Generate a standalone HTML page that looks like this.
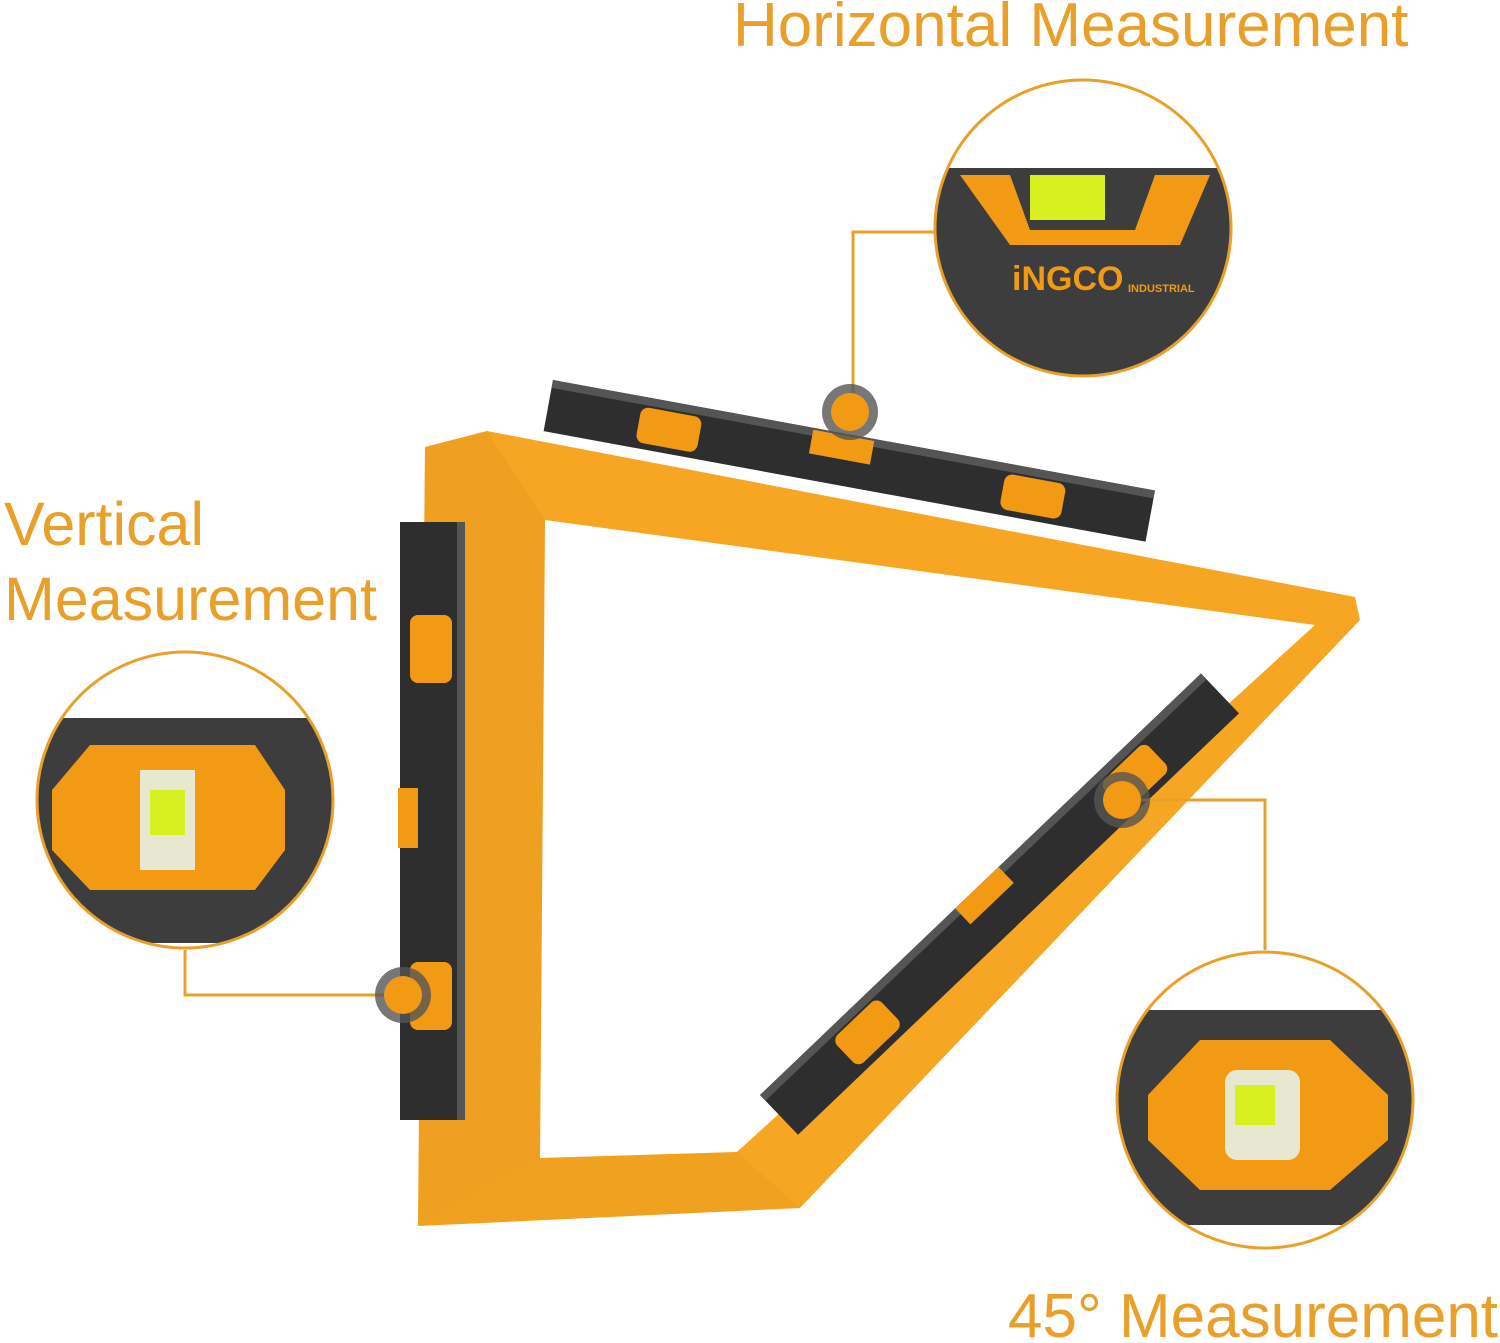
<!DOCTYPE html>
<html><head><meta charset="utf-8"><style>
html,body{margin:0;padding:0;background:#fff;}
svg{display:block;}
text{font-family:"Liberation Sans",sans-serif;fill:#e9a02a;}
</style></head><body>
<svg width="1500" height="1343" viewBox="0 0 1500 1343" xmlns="http://www.w3.org/2000/svg">
<defs>
<clipPath id="c1"><circle cx="1083" cy="228" r="147"/></clipPath>
<clipPath id="c2"><circle cx="185" cy="800" r="147"/></clipPath>
<clipPath id="c3"><circle cx="1265" cy="1100" r="147"/></clipPath>
</defs>
<text x="733" y="46" font-size="62">Horizontal Measurement</text>
<text x="4" y="545" font-size="61">Vertical</text>
<text x="4" y="620" font-size="61">Measurement</text>
<text x="1008" y="1337" font-size="62">45° Measurement</text>

<path fill-rule="evenodd" fill="#f6a623" d="M425,447 L487,431 L1355,597 L1360,620 L800,1208 L418,1226 Z M545,520 L1315,625 L737,1152 L540,1158 Z"/>
<path fill="#e0921a" d="M425,447 L487,431 L545,520 L540,1158 L418,1226 Z" opacity="0.3"/>
<path fill="#e8981c" d="M540,1158 L737,1152 L800,1208 L418,1226 Z" opacity="0.35"/>

<g transform="translate(553,380) rotate(10.4)">
<rect x="0" y="0" width="612" height="52" fill="#2e2e2e"/>
<rect x="0" y="0" width="612" height="8" fill="#555"/>
<rect x="92" y="10" width="62" height="36" rx="8" fill="#f29a14"/>
<rect x="462" y="10" width="62" height="36" rx="8" fill="#f29a14"/>
<rect x="265" y="2" width="62" height="24" fill="#f29a14"/>
</g>
<rect x="400" y="522" width="65" height="598" fill="#2e2e2e"/>
<rect x="457" y="522" width="8" height="598" fill="#555"/>
<rect x="410" y="615" width="42" height="68" rx="8" fill="#f29a14"/>
<rect x="410" y="962" width="42" height="68" rx="8" fill="#f29a14"/>
<rect x="398" y="788" width="20" height="60" fill="#f29a14"/>
<g transform="translate(760,1095) rotate(-43.7)">
<rect x="0" y="0" width="610" height="55" fill="#2e2e2e"/>
<rect x="0" y="0" width="610" height="8" fill="#555"/>
<rect x="90" y="10" width="62" height="38" rx="8" fill="#f29a14"/>
<rect x="460" y="10" width="62" height="38" rx="8" fill="#f29a14"/>
<rect x="270" y="0" width="60" height="22" fill="#f29a14"/>
</g>

<g stroke="#e9a02a" stroke-width="3" fill="none">
<polyline points="853,410 853,232 935,232"/>
<polyline points="403,995 185,995 185,950"/>
<polyline points="1120,800 1265,800 1265,950"/>
</g>
<g>
<circle cx="850" cy="412" r="28" fill="#555" opacity="0.8"/><circle cx="850" cy="412" r="19" fill="#f29a14"/>
<circle cx="403" cy="995" r="28" fill="#555" opacity="0.8"/><circle cx="403" cy="995" r="19" fill="#f29a14"/>
<circle cx="1122" cy="800" r="28" fill="#555" opacity="0.8"/><circle cx="1122" cy="800" r="19" fill="#f29a14"/>
</g>

<g clip-path="url(#c1)">
<rect x="930" y="75" width="310" height="310" fill="#fff"/>
<rect x="930" y="168" width="310" height="220" fill="#3d3d3d"/>
<path d="M960,175 L1010,175 L1030,230 L1135,230 L1155,175 L1210,175 L1180,245 L1010,245 Z" fill="#f29a14"/>
<rect x="1030" y="175" width="75" height="45" fill="#d8f020"/>
<text x="1012" y="290" font-size="34" font-weight="bold" style="fill:#f29a14">iNGCO</text>
<text x="1128" y="292" font-size="11" font-weight="bold" style="fill:#f29a14">INDUSTRIAL</text>
</g>
<circle cx="1083" cy="228" r="148" fill="none" stroke="#e9a02a" stroke-width="3"/>
<g clip-path="url(#c2)">
<rect x="35" y="650" width="310" height="310" fill="#fff"/>
<rect x="35" y="718" width="310" height="225" fill="#3d3d3d"/>
<path d="M90,745 L255,745 L285,790 L285,850 L255,890 L90,890 L52,850 L52,790 Z" fill="#f29a14"/>
<rect x="140" y="770" width="55" height="100" fill="#e8e8d0"/>
<rect x="150" y="790" width="35" height="45" fill="#d8f020"/>
</g>
<circle cx="185" cy="800" r="148" fill="none" stroke="#e9a02a" stroke-width="3"/>
<g clip-path="url(#c3)">
<rect x="1115" y="950" width="310" height="310" fill="#fff"/>
<rect x="1115" y="1010" width="310" height="215" fill="#3d3d3d"/>
<path d="M1200,1040 L1330,1040 L1388,1095 L1388,1140 L1330,1190 L1200,1190 L1148,1140 L1148,1095 Z" fill="#f29a14"/>
<rect x="1225" y="1070" width="75" height="90" rx="12" fill="#e8e8d0"/>
<rect x="1235" y="1085" width="40" height="40" fill="#d8f020"/>
</g>
<circle cx="1265" cy="1100" r="148" fill="none" stroke="#e9a02a" stroke-width="3"/>
</svg>
</body></html>
